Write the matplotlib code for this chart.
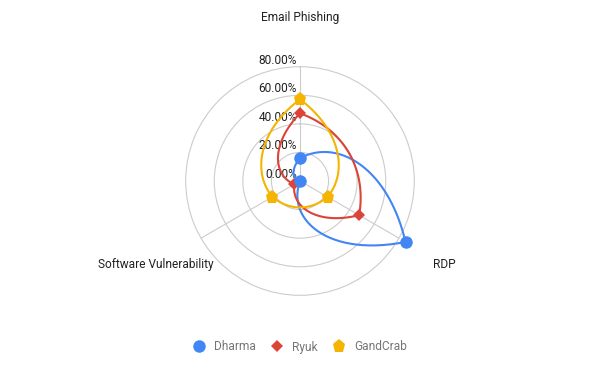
import numpy as np
import matplotlib.pyplot as plt
from matplotlib.lines import Line2D
from matplotlib.transforms import offset_copy

plt.rcParams['font.family'] = ['Roboto', 'DejaVu Sans']

# axes of the radar, clockwise from the top
axis_labels = ['Email Phishing', 'RDP', 'Software Vulnerability']

# values in percent, same order as the axes
dharma = [15.9, 85.3, 0.0]
ryuk = [47.4, 47.8, 4.5]
gandcrab = [57.2, 22.3, 22.3]

series_names = ['Dharma', 'Ryuk', 'GandCrab']
r_ticks = [0, 20, 40, 60, 80]

colors = ['#4285F4', '#DB4437', '#F4B400']
markers = ['o', 'D', 'p']
msizes = [9, 6.3, 9.8]


def smooth_radar(values, n=60):
    # one cubic bezier between two spokes, control points at 1/3 and 2/3
    # of the straight (angle, value) segment, curve drawn in the plane
    k = len(values)
    step = 2 * np.pi / k
    t = np.linspace(0, 1, n)[:, None]
    xs, ys = [], []
    for i in range(k):
        v0 = values[i]
        v1 = values[(i + 1) % k]
        p = []
        for j in range(4):
            a = i * step + step * j / 3
            v = v0 + (v1 - v0) * j / 3
            p.append([v * np.sin(a), v * np.cos(a)])
        p = np.array(p)
        b = ((1 - t) ** 3 * p[0] + 3 * (1 - t) ** 2 * t * p[1]
             + 3 * (1 - t) * t ** 2 * p[2] + t ** 3 * p[3])
        xs.append(b[:, 0])
        ys.append(b[:, 1])
    x = np.concatenate(xs)
    y = np.concatenate(ys)
    return np.unwrap(np.arctan2(x, y)), np.hypot(x, y)


fig = plt.figure(figsize=(6, 3.71), dpi=100)
ax = fig.add_axes([0.3095, 0.204, 0.381, 0.6162], projection='polar')
ax.set_theta_zero_location('N')
ax.set_theta_direction(-1)
ax.set_ylim(0, 80)

angles = np.arange(len(axis_labels)) * 2 * np.pi / len(axis_labels)
ax.set_xticks(angles)
ax.set_xticklabels([])
ax.set_yticks(r_ticks[1:-1])
ax.set_yticklabels([])
ax.tick_params(length=0)
ax.grid(color='#cccccc', linewidth=0.8)
ax.spines['polar'].set_color('#cccccc')
ax.spines['polar'].set_linewidth(0.8)

# percent labels left of the top spoke
trans = offset_copy(ax.transData, fig=fig, x=-3, y=6.5, units='dots')
for v in r_ticks:
    ax.text(0, v, f'{v:.2f}%', transform=trans, ha='right', va='center',
            fontsize=8.6, color='#212121')

# axis names
for a, lab in zip(angles, axis_labels):
    if a == 0:
        ax.text(a, 110, lab, ha='center', va='bottom', fontsize=8.6, color='#212121')
    else:
        ax.text(a, 116.5, lab, ha='center', va='center', fontsize=8.6, color='#212121')

data = [dharma, ryuk, gandcrab]
for vals, c in zip(data, colors):
    th, rr = smooth_radar(vals)
    ax.plot(th, rr, color=c, linewidth=1.5, clip_on=False, zorder=3)

for vals, c, m, s in list(zip(data, colors, markers, msizes))[::-1]:
    ax.plot(angles, vals, linestyle='none', marker=m, markersize=s,
            markeredgewidth=0, color=c, clip_on=False, zorder=4)

handles = [Line2D([], [], color=c, marker=m, markersize=s, markeredgewidth=0, linestyle='none')
           for c, m, s in zip(colors, markers, msizes)]
fig.legend(handles, series_names, loc='center', bbox_to_anchor=(0.5, 1 - 347 / 371),
           ncol=3, frameon=False, fontsize=8.6, labelcolor='#757575',
           handlelength=1.0, handletextpad=0.75, columnspacing=1.3,
           borderpad=0, borderaxespad=0)

fig.savefig('out.png', dpi=100, facecolor='white')
